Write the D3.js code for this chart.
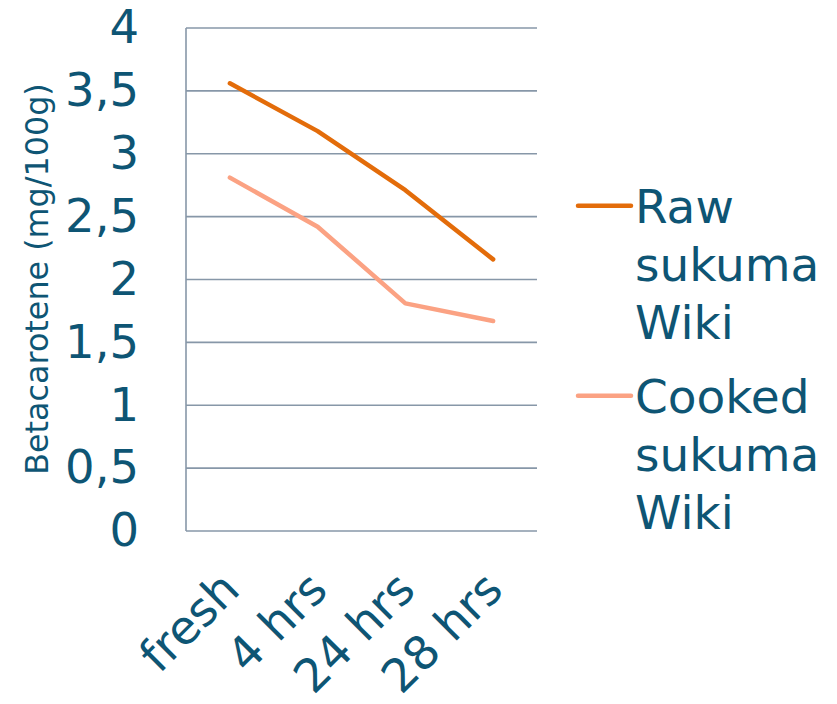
<!DOCTYPE html>
<html>
<head>
<meta charset="utf-8">
<script src="https://cdn.jsdelivr.net/npm/d3@7"></script>
<style>
  html, body { margin: 0; padding: 0; background: #ffffff; }
  svg { display: block; font-family: "DejaVu Sans", Verdana, sans-serif; }
</style>
</head>
<body>
<svg id="chart" width="837" height="704"></svg>
<script>
// Beta-carotene content of sukuma wiki over storage time
const categories = ["fresh", "4 hrs", "24 hrs", "28 hrs"];
const rawValues = [3.56, 3.18, 2.71, 2.16];
const cookedValues = [2.81, 2.42, 1.81, 1.67];
const seriesNames = [["Raw", "sukuma", "Wiki"], ["Cooked", "sukuma", "Wiki"]];
const seriesColors = ["#E36C0A", "#FBA283"];
const yTicks = [0, 0.5, 1, 1.5, 2, 2.5, 3, 3.5, 4];
const yTickLabels = ["0", "0,5", "1", "1,5", "2", "2,5", "3", "3,5", "4"];
const yTitle = "Betacarotene (mg/100g)";

const textColor = "#0E5574";
const gridColor = "#8797A8";

const svg = d3.select("#chart");
const plot = { left: 186, right: 537, top: 28, bottom: 531 };

const x = d3.scalePoint().domain(categories).range([plot.left, plot.right]).padding(0.5);
const y = d3.scaleLinear().domain([0, 4]).range([plot.bottom, plot.top]);

// horizontal gridlines
svg.append("g")
  .selectAll("line")
  .data(yTicks)
  .join("line")
  .attr("x1", plot.left).attr("x2", plot.right)
  .attr("y1", d => y(d)).attr("y2", d => y(d))
  .attr("stroke", gridColor).attr("stroke-width", 1.6);

// vertical axis line
svg.append("line")
  .attr("x1", plot.left).attr("x2", plot.left)
  .attr("y1", plot.top).attr("y2", plot.bottom)
  .attr("stroke", gridColor).attr("stroke-width", 1.6);

// y tick labels
svg.append("g")
  .selectAll("text")
  .data(yTicks)
  .join("text")
  .attr("x", 139)
  .attr("y", d => y(d))
  .attr("dy", "0.33em")
  .attr("text-anchor", "end")
  .attr("font-size", 46.5)
  .attr("fill", textColor)
  .text((d, i) => yTickLabels[i]);

// y axis title
svg.append("text")
  .attr("transform", `translate(48, 279) rotate(-90)`)
  .attr("text-anchor", "middle")
  .attr("font-size", 31.8)
  .attr("fill", textColor)
  .text(yTitle);

// category labels, slanted
svg.append("g")
  .selectAll("text")
  .data(categories)
  .join("text")
  .attr("transform", d => `translate(${x(d) + 12}, 592) rotate(-45)`)
  .attr("text-anchor", "end")
  .attr("font-size", 46.5)
  .attr("fill", textColor)
  .text(d => d);

// series lines
const line = d3.line()
  .x((d, i) => x(categories[i]))
  .y(d => y(d));

[rawValues, cookedValues].forEach((vals, k) => {
  svg.append("path")
    .datum(vals)
    .attr("d", line)
    .attr("fill", "none")
    .attr("stroke", seriesColors[k])
    .attr("stroke-width", 4.5)
    .attr("stroke-linecap", "round")
    .attr("stroke-linejoin", "round");
});

// legend
const legendTop = [205.7, 395.7];
seriesNames.forEach((lines, k) => {
  const g = svg.append("g");
  g.append("line")
    .attr("x1", 578).attr("x2", 631)
    .attr("y1", legendTop[k]).attr("y2", legendTop[k])
    .attr("stroke", seriesColors[k])
    .attr("stroke-width", 4.5)
    .attr("stroke-linecap", "round");
  g.selectAll("text")
    .data(lines)
    .join("text")
    .attr("x", 635)
    .attr("y", (d, i) => legendTop[k] + 17 + i * 58.3)
    .attr("font-size", 47)
    .attr("fill", textColor)
    .text(d => d);
});
</script>
</body>
</html>
